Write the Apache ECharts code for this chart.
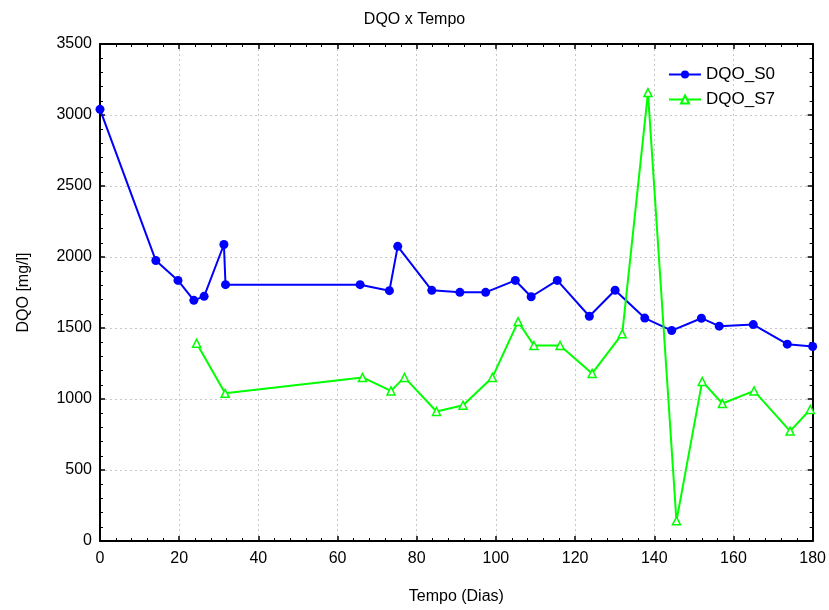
<!DOCTYPE html>
<html>
<head>
<meta charset="utf-8">
<script src="https://cdn.jsdelivr.net/npm/echarts@6/dist/echarts.min.js"></script>
<style>
html,body{margin:0;padding:0;background:#fff;}
#chart{width:829px;height:610px;}
</style>
</head>
<body>
<div id="chart"></div>
<script>
var s0Days = [0, 14.1, 19.7, 23.7, 26.3, 31.3, 31.7, 65.7, 73.1, 75.2, 83.8, 90.9, 97.4, 104.9, 108.9, 115.5, 123.6, 130.1, 137.6, 144.4, 151.9, 156.4, 165, 173.6, 180];
var s0Values = [3040, 1975, 1835, 1695, 1723, 2088, 1805, 1805, 1763, 2075, 1765, 1751, 1751, 1835, 1720, 1835, 1583, 1766, 1570, 1482, 1569, 1513, 1524, 1386, 1370];
var s7Days = [24.4, 31.6, 66.3, 73.5, 76.9, 85, 91.7, 99.1, 105.6, 109.6, 116.2, 124.3, 131.9, 138.4, 145.6, 152.1, 157.2, 165.2, 174.3, 179.4];
var s7Values = [1393, 1040, 1152, 1057, 1152, 912, 956, 1152, 1545, 1377, 1377, 1180, 1459, 3158, 142, 1124, 968, 1057, 774, 926];
var seriesNames = ['DQO_S0', 'DQO_S7'];
var titleText = 'DQO x Tempo';
var xName = 'Tempo (Dias)';
var yName = 'DQO [mg/l]';

function pairs(xs, ys){ return xs.map(function(x,i){ return [x, ys[i]]; }); }

var font = 'Liberation Sans, Arial, sans-serif';
var chart = echarts.init(document.getElementById('chart'), null, {renderer:'canvas'});
var tickStyle = {show:true, inside:true, length:5, lineStyle:{color:'#000', width:1.5}};
var minorStyle = {show:true, splitNumber:5, length:3, lineStyle:{color:'#000', width:1}};
var plain = function(v){ return String(v); };
chart.setOption({
  animation:false,
  backgroundColor:'#fff',
  title:{text:titleText, left:'center', top:7, textStyle:{fontFamily:font, fontSize:16, fontWeight:'normal', color:'#000'}},
  grid:{left:100, right:13, top:44, bottom:66, containLabel:false},
  legend:{
    orient:'vertical', left:663, top:61, itemWidth:32, itemHeight:10, itemGap:8,
    textStyle:{fontFamily:font, fontSize:17, color:'#000'},
    data:seriesNames
  },
  xAxis:[{
    type:'value', min:0, max:180, interval:20, position:'bottom',
    name:xName, nameLocation:'middle', nameGap:48,
    nameTextStyle:{fontFamily:font, fontSize:16, color:'#000'},
    axisLine:{show:true, onZero:false, lineStyle:{color:'#000', width:2}},
    axisTick:tickStyle, minorTick:minorStyle,
    axisLabel:{fontFamily:font, fontSize:16, color:'#000', margin:10, formatter:plain},
    splitLine:{show:true, lineStyle:{color:'#c8c8c8', type:[2,3], width:1}}
  },{
    type:'value', min:0, max:180, interval:20, position:'top',
    axisLine:{show:true, onZero:false, lineStyle:{color:'#000', width:2}},
    axisTick:tickStyle, minorTick:minorStyle,
    axisLabel:{show:false}, splitLine:{show:false}
  }],
  yAxis:[{
    type:'value', min:0, max:3500, interval:500, position:'left',
    name:yName, nameLocation:'middle', nameGap:68, nameRotate:90,
    nameTextStyle:{fontFamily:font, fontSize:16, color:'#000'},
    axisLine:{show:true, onZero:false, lineStyle:{color:'#000', width:2}},
    axisTick:tickStyle, minorTick:minorStyle,
    axisLabel:{fontFamily:font, fontSize:16, color:'#000', margin:8, formatter:plain},
    splitLine:{show:true, lineStyle:{color:'#c8c8c8', type:[2,3], width:1}}
  },{
    type:'value', min:0, max:3500, interval:500, position:'right',
    axisLine:{show:true, onZero:false, lineStyle:{color:'#000', width:2}},
    axisTick:tickStyle, minorTick:minorStyle,
    axisLabel:{show:false}, splitLine:{show:false}
  }],
  series:[{
    name:seriesNames[0], type:'line', xAxisIndex:0, yAxisIndex:0,
    data:pairs(s0Days, s0Values),
    symbol:'circle', symbolSize:9, clip:false,
    lineStyle:{color:'#0000ff', width:2},
    itemStyle:{color:'#0000ff'}
  },{
    name:seriesNames[1], type:'line', xAxisIndex:0, yAxisIndex:0,
    data:pairs(s7Days, s7Values),
    symbol:'triangle', symbolSize:8, clip:false,
    lineStyle:{color:'#00ff00', width:2},
    itemStyle:{color:'#ffffff', borderColor:'#00ff00', borderWidth:1.5}
  }]
});
</script>
</body>
</html>
